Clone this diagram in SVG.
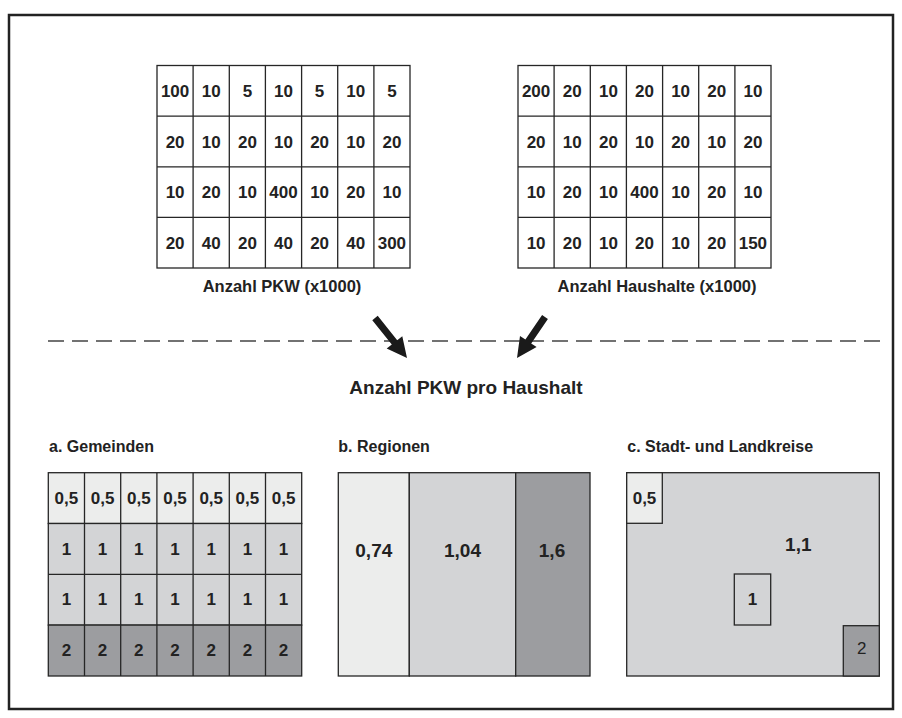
<svg xmlns="http://www.w3.org/2000/svg" width="902" height="718" viewBox="0 0 902 718">
<style>
.ln{stroke:#262626;stroke-width:1.3;fill:none}
.cell{stroke:#262626;stroke-width:1.3}
.t{font-family:"Liberation Sans",Arial,sans-serif;font-weight:bold;fill:#222;text-anchor:middle}
.n{font-size:17px}
.lab{font-size:16.5px}
.hd{font-size:16px;text-anchor:start}
.l1{fill:#ecedec}.l2{fill:#d3d4d6}.l3{fill:#9c9da0}
</style>
<rect x="9" y="15" width="884" height="694" fill="#fff" stroke="#222" stroke-width="2.5"/>

<g id="grid-pkw">
<rect x="157" y="65.5" width="253" height="202.5" fill="#fff" class="ln"/>
<path class="ln" d="M193.1 65.5V268M229.3 65.5V268M265.4 65.5V268M301.6 65.5V268M337.7 65.5V268M373.9 65.5V268M157 116.1H410M157 166.8H410M157 217.4H410"/>
<g class="t n">
<text x="175.1" y="97">100</text><text x="211.2" y="97">10</text><text x="247.4" y="97">5</text><text x="283.5" y="97">10</text><text x="319.6" y="97">5</text><text x="355.8" y="97">10</text><text x="391.9" y="97">5</text>
<text x="175.1" y="147.6">20</text><text x="211.2" y="147.6">10</text><text x="247.4" y="147.6">20</text><text x="283.5" y="147.6">10</text><text x="319.6" y="147.6">20</text><text x="355.8" y="147.6">10</text><text x="391.9" y="147.6">20</text>
<text x="175.1" y="198.2">10</text><text x="211.2" y="198.2">20</text><text x="247.4" y="198.2">10</text><text x="283.5" y="198.2">400</text><text x="319.6" y="198.2">10</text><text x="355.8" y="198.2">20</text><text x="391.9" y="198.2">10</text>
<text x="175.1" y="248.9">20</text><text x="211.2" y="248.9">40</text><text x="247.4" y="248.9">20</text><text x="283.5" y="248.9">40</text><text x="319.6" y="248.9">20</text><text x="355.8" y="248.9">40</text><text x="391.9" y="248.9">300</text>
</g>
<text class="t lab" x="282" y="292">Anzahl PKW (x1000)</text>
</g>

<g id="grid-haushalte">
<rect x="518" y="65.5" width="253" height="202.5" fill="#fff" class="ln"/>
<path class="ln" d="M554.1 65.5V268M590.3 65.5V268M626.4 65.5V268M662.6 65.5V268M698.7 65.5V268M734.9 65.5V268M518 116.1H771M518 166.8H771M518 217.4H771"/>
<g class="t n">
<text x="536.1" y="97">200</text><text x="572.2" y="97">20</text><text x="608.4" y="97">10</text><text x="644.5" y="97">20</text><text x="680.6" y="97">10</text><text x="716.8" y="97">20</text><text x="752.9" y="97">10</text>
<text x="536.1" y="147.6">20</text><text x="572.2" y="147.6">10</text><text x="608.4" y="147.6">20</text><text x="644.5" y="147.6">10</text><text x="680.6" y="147.6">20</text><text x="716.8" y="147.6">10</text><text x="752.9" y="147.6">20</text>
<text x="536.1" y="198.2">10</text><text x="572.2" y="198.2">20</text><text x="608.4" y="198.2">10</text><text x="644.5" y="198.2">400</text><text x="680.6" y="198.2">10</text><text x="716.8" y="198.2">20</text><text x="752.9" y="198.2">10</text>
<text x="536.1" y="248.9">10</text><text x="572.2" y="248.9">20</text><text x="608.4" y="248.9">10</text><text x="644.5" y="248.9">20</text><text x="680.6" y="248.9">10</text><text x="716.8" y="248.9">20</text><text x="752.9" y="248.9">150</text>
</g>
<text class="t lab" x="657" y="292">Anzahl Haushalte (x1000)</text>
</g>

<line x1="48" y1="341" x2="882" y2="341" stroke="#444" stroke-width="1.6" stroke-dasharray="16 8"/>

<g id="connectors" fill="#1a1a1a">
<polygon points="377.7,315.8 397.2,340.2 402.3,336.2 407,358 386.7,348.6 391.8,344.6 372.3,320.2"/>
<polygon points="542.1,315 525.4,339.5 520,335.9 517,358 536.6,347.1 531.2,343.5 547.9,319"/>
</g>

<text id="title" class="t" x="466" y="394" font-size="19">Anzahl PKW pro Haushalt</text>

<g id="gemeinden">
<text class="t hd" x="49" y="451.7">a. Gemeinden</text>
<rect class="l1 cell" x="48.3" y="472.7" width="253.4" height="50.8"/>
<rect class="l2 cell" x="48.3" y="523.5" width="253.4" height="101.6"/>
<rect class="l3 cell" x="48.3" y="625.1" width="253.4" height="50.9"/>
<path class="ln" d="M84.5 472.7V676M120.7 472.7V676M156.9 472.7V676M193.1 472.7V676M229.3 472.7V676M265.5 472.7V676M48.3 574.3H301.7"/>
<g class="t n">
<text x="66.4" y="503.8">0,5</text><text x="102.6" y="503.8">0,5</text><text x="138.8" y="503.8">0,5</text><text x="175" y="503.8">0,5</text><text x="211.2" y="503.8">0,5</text><text x="247.4" y="503.8">0,5</text><text x="283.6" y="503.8">0,5</text>
<text x="66.4" y="554.6">1</text><text x="102.6" y="554.6">1</text><text x="138.8" y="554.6">1</text><text x="175" y="554.6">1</text><text x="211.2" y="554.6">1</text><text x="247.4" y="554.6">1</text><text x="283.6" y="554.6">1</text>
<text x="66.4" y="605.4">1</text><text x="102.6" y="605.4">1</text><text x="138.8" y="605.4">1</text><text x="175" y="605.4">1</text><text x="211.2" y="605.4">1</text><text x="247.4" y="605.4">1</text><text x="283.6" y="605.4">1</text>
<text x="66.4" y="656.2">2</text><text x="102.6" y="656.2">2</text><text x="138.8" y="656.2">2</text><text x="175" y="656.2">2</text><text x="211.2" y="656.2">2</text><text x="247.4" y="656.2">2</text><text x="283.6" y="656.2">2</text>
</g>
</g>

<g id="regionen">
<text class="t hd" x="338.3" y="451.7">b. Regionen</text>
<rect class="l1 cell" x="338.3" y="472.7" width="71" height="203.3"/>
<rect class="l2 cell" x="409.3" y="472.7" width="106.4" height="203.3"/>
<rect class="l3 cell" x="515.7" y="472.7" width="74.3" height="203.3"/>
<g class="t" font-size="19">
<text x="373.8" y="556.5">0,74</text><text x="462.5" y="556.5">1,04</text><text x="552" y="556.5">1,6</text>
</g>
</g>

<g id="kreise">
<text class="t hd" x="627.3" y="451.7">c. Stadt- und Landkreise</text>
<rect class="l2 cell" x="626.7" y="472.7" width="252.6" height="203.3"/>
<rect class="l1 cell" x="626.7" y="472.7" width="35.6" height="50.6"/>
<rect class="l2 cell" x="734.3" y="574" width="36.4" height="51"/>
<rect class="l3 cell" x="843.3" y="625.7" width="36" height="50.3"/>
<text class="t n" x="644.5" y="503.5">0,5</text>
<text class="t" font-size="19" x="798.3" y="550.5">1,1</text>
<text class="t n" x="752.5" y="605.2">1</text>
<text x="861.8" y="653.5" font-family="Liberation Sans, Arial, sans-serif" font-size="17" fill="#222" text-anchor="middle">2</text>
</g>
</svg>
